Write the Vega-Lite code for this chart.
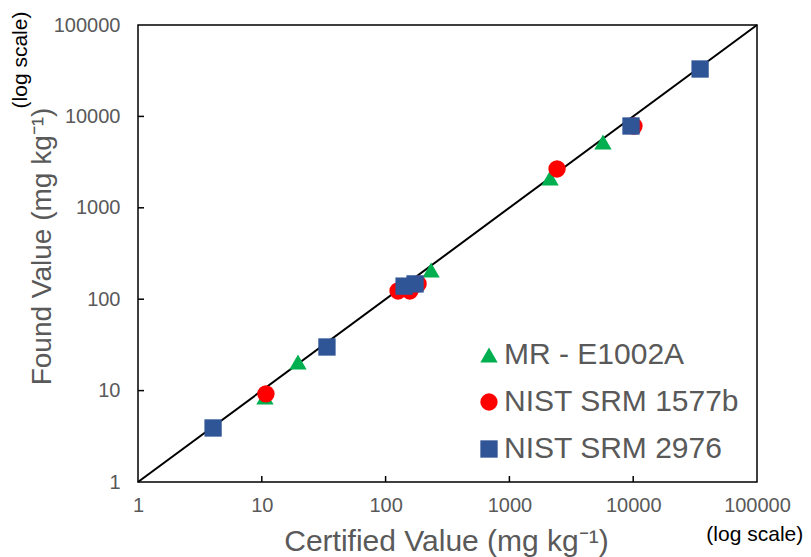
{
  "$schema": "https://vega.github.io/schema/vega-lite/v6.json",
  "width": 619,
  "height": 457,
  "autosize": {"type": "none"},
  "padding": {"left": 138, "top": 25, "right": 54, "bottom": 75},
  "background": "white",
  "config": {
    "view": {"stroke": "black", "strokeWidth": 1.5},
    "font": "Liberation Sans"
  },
  "datasets": {
    "pts": [
      {"series": "MR - E1002A", "certified": 10.6, "found": 8.5},
      {"series": "MR - E1002A", "certified": 19.6, "found": 20.6},
      {"series": "MR - E1002A", "certified": 233, "found": 209},
      {"series": "MR - E1002A", "certified": 2130, "found": 2120},
      {"series": "MR - E1002A", "certified": 5700, "found": 5250},
      {"series": "NIST SRM 1577b", "certified": 10.8, "found": 9.2},
      {"series": "NIST SRM 1577b", "certified": 126, "found": 123},
      {"series": "NIST SRM 1577b", "certified": 157, "found": 123},
      {"series": "NIST SRM 1577b", "certified": 183, "found": 147},
      {"series": "NIST SRM 1577b", "certified": 2425, "found": 2660},
      {"series": "NIST SRM 1577b", "certified": 10150, "found": 7850},
      {"series": "NIST SRM 2976", "certified": 4.04, "found": 3.9},
      {"series": "NIST SRM 2976", "certified": 33.6, "found": 30},
      {"series": "NIST SRM 2976", "certified": 141, "found": 139},
      {"series": "NIST SRM 2976", "certified": 173, "found": 147},
      {"series": "NIST SRM 2976", "certified": 9600, "found": 7850},
      {"series": "NIST SRM 2976", "certified": 34700, "found": 33000}
    ],
    "diag": [{"v": 1}, {"v": 100000}],
    "ticks": [{"v": 10}, {"v": 100}, {"v": 1000}, {"v": 10000}]
  },
  "layer": [
    {
      "data": {"name": "diag"},
      "mark": {"type": "line", "color": "black", "strokeWidth": 2},
      "encoding": {
        "x": {"field": "v", "type": "quantitative", "scale": {"type": "log", "domain": [1, 100000], "nice": false},
          "axis": {
            "values": [1, 10, 100, 1000, 10000, 100000], "format": "d", "grid": false, "domain": false, "ticks": false,
            "labelFontSize": 20, "labelColor": "#595959", "labelPadding": 13, "labelFlush": false,
            "title": "Certified Value (mg kg⁻¹)", "titleFontSize": 30, "titleFontWeight": "normal", "titleColor": "#595959",
            "titleX": 308, "titleY": 59, "titleBaseline": "middle", "titleAnchor": "middle", "titleAlign": "center"
          }},
        "y": {"field": "v", "type": "quantitative", "scale": {"type": "log", "domain": [1, 100000], "nice": false},
          "axis": {
            "values": [1, 10, 100, 1000, 10000, 100000], "format": "d", "grid": false, "domain": false, "ticks": false,
            "labelFontSize": 20, "labelColor": "#595959", "labelPadding": 18, "labelFlush": false,
            "title": "Found Value (mg kg⁻¹)", "titleFontSize": 28, "titleFontWeight": "normal", "titleColor": "#595959",
            "titleX": -96, "titleY": 221, "titleBaseline": "middle", "titleAnchor": "middle", "titleAlign": "center", "titleAngle": 270
          }}
      }
    },
    {
      "data": {"name": "ticks"},
      "mark": {"type": "tick", "orient": "vertical", "size": 12, "thickness": 1.5, "color": "black", "clip": true, "opacity": 1},
      "encoding": {
        "x": {"field": "v", "type": "quantitative"},
        "y": {"datum": 1, "type": "quantitative"}
      }
    },
    {
      "data": {"name": "ticks"},
      "mark": {"type": "tick", "orient": "horizontal", "size": 12, "thickness": 1.5, "color": "black", "clip": true, "opacity": 1},
      "encoding": {
        "y": {"field": "v", "type": "quantitative"},
        "x": {"datum": 1, "type": "quantitative"}
      }
    },
    {
      "data": {"name": "pts"},
      "mark": {"type": "point", "filled": true, "opacity": 1, "size": 300},
      "encoding": {
        "x": {"field": "certified", "type": "quantitative"},
        "y": {"field": "found", "type": "quantitative"},
        "color": {"field": "series", "type": "nominal",
          "scale": {"domain": ["MR - E1002A", "NIST SRM 1577b", "NIST SRM 2976"], "range": ["#00B050", "#FF0000", "#2F5597"]},
          "legend": {
            "title": null, "orient": "none", "legendX": 336, "legendY": 315, "padding": 0,
            "labelFontSize": 30, "labelColor": "#595959", "labelOffset": 0, "rowPadding": 17, "labelLimit": 400,
            "symbolSize": 300, "symbolStrokeWidth": 0
          }},
        "shape": {"field": "series", "type": "nominal",
          "scale": {"domain": ["MR - E1002A", "NIST SRM 1577b", "NIST SRM 2976"], "range": ["triangle-up", "circle", "square"]},
          "legend": null},
        "order": {"field": "series"}
      }
    },
    {
      "data": {"values": [{"t": "(log scale)", "x": 96000, "y": 1}]},
      "mark": {"type": "text", "fontSize": 21, "color": "black", "dy": 53},
      "encoding": {
        "x": {"field": "x", "type": "quantitative"},
        "y": {"field": "y", "type": "quantitative"},
        "text": {"field": "t"}
      }
    },
    {
      "data": {"values": [{"t": "(log scale)", "x": 1, "y": 41400}]},
      "mark": {"type": "text", "fontSize": 21, "color": "black", "angle": 270, "dy": -117},
      "encoding": {
        "x": {"field": "x", "type": "quantitative"},
        "y": {"field": "y", "type": "quantitative"},
        "text": {"field": "t"}
      }
    }
  ]
}
